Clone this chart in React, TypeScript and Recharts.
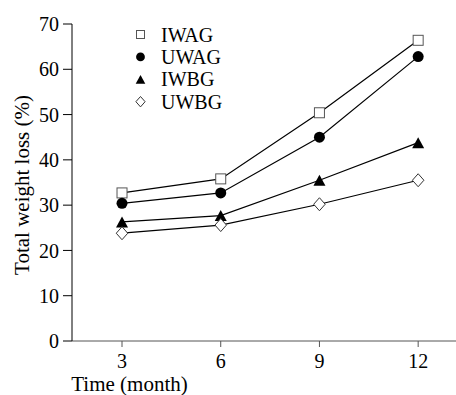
import React from 'react';
import { LineChart, Line, XAxis, YAxis, Legend } from 'recharts';

const months = [3, 6, 9, 12];
const iwag = [32.7, 35.8, 50.4, 66.4];
const uwag = [30.4, 32.7, 45.0, 62.8];
const iwbg = [26.3, 27.7, 35.5, 43.8];
const uwbg = [23.8, 25.6, 30.2, 35.5];
const yTicks = [0, 10, 20, 30, 40, 50, 60, 70];

const seriesList = [
  { key: 'IWAG', shape: 'square' },
  { key: 'UWAG', shape: 'circle' },
  { key: 'IWBG', shape: 'triangle' },
  { key: 'UWBG', shape: 'diamond' },
];

const data = months.map((m, i) => ({
  month: m,
  IWAG: iwag[i],
  UWAG: uwag[i],
  IWBG: iwbg[i],
  UWBG: uwbg[i],
}));

const font = '"Liberation Serif", "Times New Roman", serif';

const Marker = ({ shape, cx, cy, s }: { shape: string; cx: number; cy: number; s: number }) => {
  if (shape === 'square') {
    return (
      <rect x={cx - s / 2} y={cy - s / 2} width={s} height={s} fill="#fff" stroke="#555" strokeWidth={1} />
    );
  }
  if (shape === 'circle') {
    return <circle cx={cx} cy={cy} r={s * 0.55} fill="#000" />;
  }
  if (shape === 'triangle') {
    const w = s * 1.2;
    const h = s * 1.1;
    return (
      <polygon
        points={`${cx},${cy - h / 2} ${cx + w / 2},${cy + h / 2} ${cx - w / 2},${cy + h / 2}`}
        fill="#000"
      />
    );
  }
  const w = s * 1.15;
  const h = s * 1.3;
  return (
    <polygon
      points={`${cx},${cy - h / 2} ${cx + w / 2},${cy} ${cx},${cy + h / 2} ${cx - w / 2},${cy}`}
      fill="#fff"
      stroke="#333"
      strokeWidth={1}
    />
  );
};

const renderLegend = () => (
  <svg width={110} height={95} style={{ display: 'block' }}>
    {seriesList.map((s, i) => {
      const cy = 11.5 + i * 22.4;
      return (
        <g key={s.key}>
          <Marker shape={s.shape} cx={10.5} cy={cy} s={8} />
          <text x={31} y={cy + 7} fontSize={20} fontFamily={font} fill="#000">
            {s.key}
          </text>
        </g>
      );
    })}
  </svg>
);

export default function App() {
  return (
    <div style={{ position: 'absolute', left: 0, top: 0, background: '#fff' }}>
      <LineChart width={456} height={395} data={data} margin={{ top: 24, right: 0, left: 0, bottom: 0 }}>
        <XAxis
          dataKey="month"
          type="number"
          domain={[1.48, 13.15]}
          allowDataOverflow
          ticks={months}
          height={54}
          tickSize={6}
          tickMargin={7}
          stroke="#555"
          tick={{ fontSize: 20, fontFamily: font, fill: '#000' }}
          label={{
            content: () => (
              <text x={129.5} y={391} textAnchor="middle" fontSize={21} fontFamily={font} fill="#000">
                Time (month)
              </text>
            ),
          }}
        />
        <YAxis
          domain={[0, 70]}
          ticks={yTicks}
          width={72}
          tickSize={9}
          tickMargin={4}
          stroke="#000"
          tick={{ fontSize: 20, fontFamily: font, fill: '#000' }}
          label={{
            content: () => (
              <text
                x={22}
                y={185}
                transform="rotate(-90 22 185)"
                textAnchor="middle"
                dominantBaseline="central"
                fontSize={21}
                fontFamily={font}
                fill="#000"
              >
                Total weight loss (%)
              </text>
            ),
          }}
        />
        <Legend
          layout="vertical"
          align="center"
          verticalAlign="middle"
          content={renderLegend}
          wrapperStyle={{ left: 130, top: 23, width: 110, height: 95 }}
        />
        {seriesList.map((s) => (
          <Line
            key={s.key}
            dataKey={s.key}
            stroke="#000"
            strokeWidth={1.2}
            isAnimationActive={false}
            dot={(p: any) => (
              <Marker key={`${s.key}-${p.index}`} shape={s.shape} cx={p.cx} cy={p.cy} s={10} />
            )}
            activeDot={false}
          />
        ))}
      </LineChart>
    </div>
  );
}
